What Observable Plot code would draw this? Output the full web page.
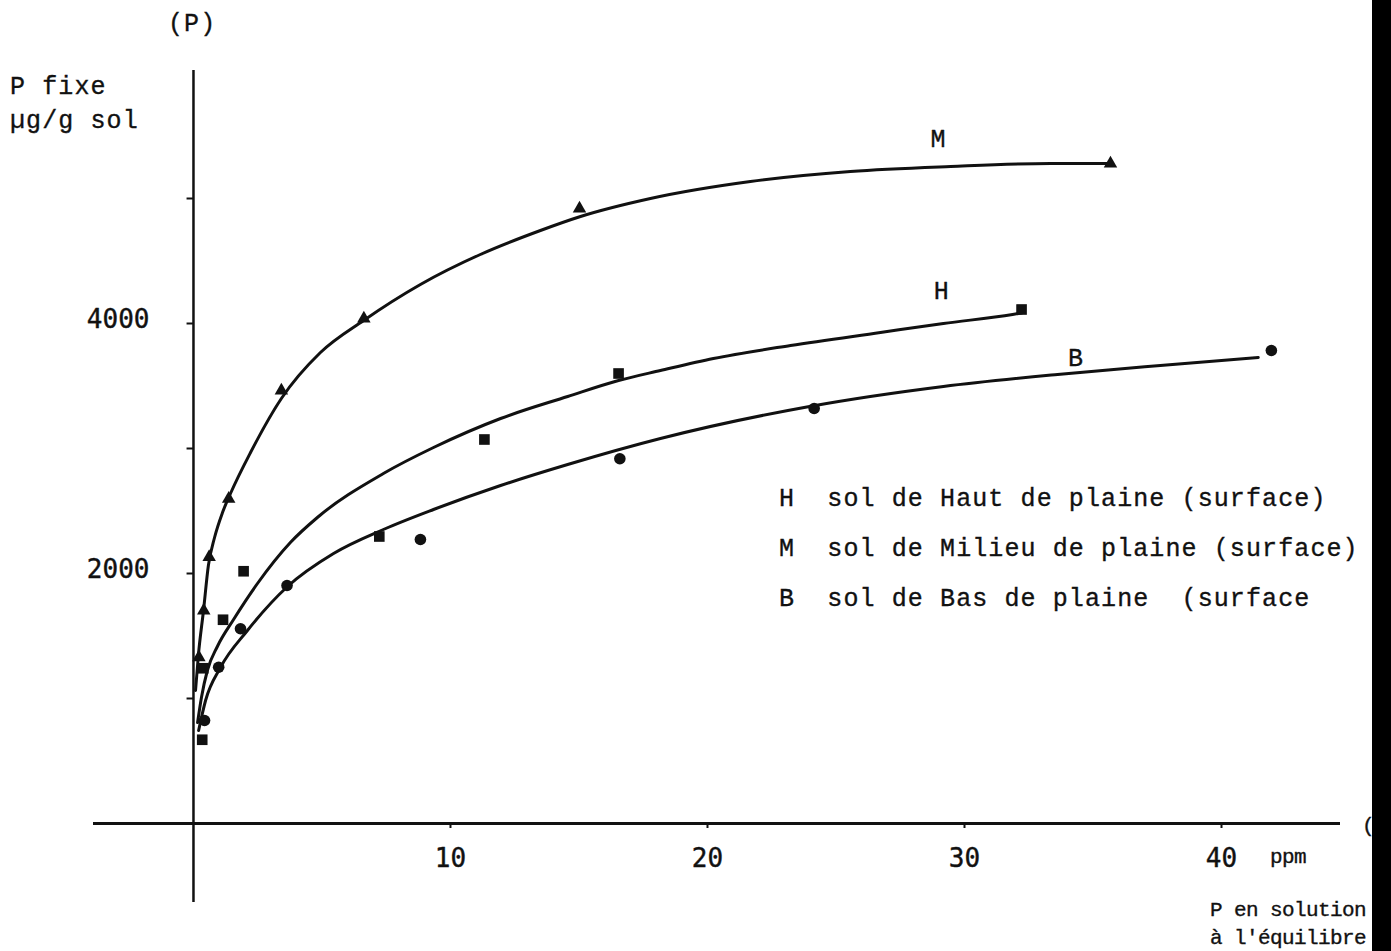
<!DOCTYPE html>
<html><head><meta charset="utf-8">
<script src="https://cdn.jsdelivr.net/npm/d3@7"></script>
<script src="https://cdn.jsdelivr.net/npm/@observablehq/plot@0.6"></script>
<style>
html,body{margin:0;padding:0;background:#fff;}
#wrap{position:relative;width:1391px;height:951px;overflow:hidden;background:#fff;}
.tw{position:absolute;font-family:"Liberation Mono",monospace;font-size:25px;letter-spacing:1.1px;color:#111;white-space:pre;line-height:24px;-webkit-text-stroke:0.35px #111;}
.sm{font-size:21px;letter-spacing:-0.6px;}
#bar{position:absolute;left:1372px;top:0;width:19px;height:951px;background:#000;}
</style></head><body><div id="wrap"></div>
<script>
// ---- axis definitions ----
const xAxisExtent = [-3.89, 44.63];
const yAxisExtent = [-632, 6024];
const xTicks = [10, 20, 30, 40];
const yTicks = [1000, 2000, 3000, 4000, 5000];
const yTickLabels = [2000, 4000];

// ---- measured points (P en solution ppm, P fixe µg/g sol) ----
const mX = [0.21, 0.40, 0.61, 1.37, 3.42, 6.63, 15.02, 35.68];
const mY = [1330, 1704, 2132, 2598, 3464, 4040, 4920, 5280];
const hX = [0.34, 0.38, 1.15, 1.95, 7.23, 11.32, 16.54, 32.22];
const hY = [670, 1242, 1630, 2018, 2296, 3072, 3600, 4112];
const bX = [0.43, 0.98, 1.83, 3.64, 8.83, 16.59, 24.15, 41.94];
const bY = [824, 1250, 1558, 1904, 2272, 2918, 3320, 3784];

// ---- fitted curves ----
const mCurveX = [0.08, 0.19, 0.39, 0.58, 0.82, 1.13, 1.44, 2.22, 3.42, 4.94, 6.62, 8.83, 11.16, 13.50, 15.06, 17.78, 21.67, 25.56, 29.46, 33.35, 35.60];
const mCurveY = [1064, 1344, 1704, 2064, 2288, 2488, 2640, 2968, 3400, 3768, 4024, 4312, 4552, 4744, 4856, 5000, 5136, 5216, 5256, 5280, 5280];
const hCurveX = [0.16, 0.31, 0.54, 0.93, 1.56, 2.49, 3.77, 4.82, 7.39, 9.34, 11.95, 14.56, 16.54, 18.17, 20.23, 23.23, 26.73, 29.18, 31.87, 32.22];
const hCurveY = [808, 1008, 1224, 1416, 1632, 1920, 2248, 2448, 2800, 3008, 3240, 3416, 3544, 3624, 3720, 3824, 3928, 4000, 4072, 4084];
const bCurveX = [0.20, 0.47, 1.05, 2.10, 3.66, 5.45, 7.39, 9.34, 11.95, 14.56, 18.17, 23.97, 29.18, 33.62, 37.62, 41.43];
const bCurveY = [744, 984, 1248, 1544, 1896, 2160, 2352, 2512, 2704, 2872, 3080, 3336, 3496, 3592, 3664, 3728];

// ---- curve labels ----
const seriesNames = ["M", "H", "B"];
const seriesLabelX = [28.97, 29.10, 34.32];
const seriesLabelY = [5480, 4264, 3728];

const legendLines = [
  "H  sol de Haut de plaine (surface)",
  "M  sol de Milieu de plaine (surface)",
  "B  sol de Bas de plaine  (surface"
];

const zip = (xs, ys) => xs.map((x, i) => ({x, y: ys[i]}));
const mPts = zip(mX, mY), hPts = zip(hX, hY), bPts = zip(bX, bY);
const mCurve = zip(mCurveX, mCurveY), hCurve = zip(hCurveX, hCurveY), bCurve = zip(bCurveX, bCurveY);
const labels = seriesNames.map((n, i) => ({n, x: seriesLabelX[i], y: seriesLabelY[i]}));

const ink = "#111";
const tickLenX = 0.25, tickLenY = 40;
const twFont = "Liberation Mono";
const numFont = "DejaVu Sans Mono";

const chart = Plot.plot({
  width: 1391, height: 951,
  marginLeft: 93, marginRight: 51, marginTop: 70, marginBottom: 49,
  x: {domain: xAxisExtent, axis: null},
  y: {domain: yAxisExtent, axis: null},
  style: {background: "white", color: ink},
  marks: [
    Plot.ruleY([0], {x1: xAxisExtent[0], x2: xAxisExtent[1], stroke: ink, strokeWidth: 3}),
    Plot.ruleX([0], {y1: yAxisExtent[0], y2: yAxisExtent[1], stroke: ink, strokeWidth: 2.5}),
    Plot.ruleY(yTicks, {x1: -tickLenX, x2: 0, y: d => d, stroke: ink, strokeWidth: 2}),
    Plot.ruleX(xTicks, {y1: -tickLenY, y2: 0, x: d => d, stroke: ink, strokeWidth: 2}),
    Plot.text(xTicks, {x: d => d, y: 0, dy: 35, text: d => String(d), fontFamily: numFont, fontSize: 26, fill: ink, stroke: ink, strokeWidth: 0.4}),
    Plot.text(yTickLabels, {x: 0, y: d => d, dx: -44, dy: -4, textAnchor: "end", text: d => String(d), fontFamily: numFont, fontSize: 26, fill: ink, stroke: ink, strokeWidth: 0.4}),
    Plot.line(mCurve, {x: "x", y: "y", curve: "monotone-x", stroke: ink, strokeWidth: 3}),
    Plot.line(hCurve, {x: "x", y: "y", curve: "monotone-x", stroke: ink, strokeWidth: 3}),
    Plot.line(bCurve, {x: "x", y: "y", curve: "monotone-x", stroke: ink, strokeWidth: 3}),
    Plot.dot(mPts, {x: "x", y: "y", symbol: "triangle", r: 5, fill: ink, stroke: "none"}),
    Plot.dot(hPts, {x: "x", y: "y", symbol: "square", r: 6, fill: ink, stroke: "none"}),
    Plot.dot(bPts, {x: "x", y: "y", symbol: "circle", r: 5.8, fill: ink, stroke: "none"}),
    Plot.text(labels, {x: "x", y: "y", text: "n", fontFamily: twFont, fontSize: 25, fill: ink, stroke: ink, strokeWidth: 0.35})
  ]
});

const wrap = document.getElementById("wrap");
wrap.appendChild(chart);
chart.style.position = "absolute";
chart.style.left = "0px";
chart.style.top = "0px";

function addText(txt, left, top, cls) {
  const d = document.createElement("div");
  d.className = "tw" + (cls ? " " + cls : "");
  d.textContent = txt;
  d.style.left = left + "px";
  d.style.top = top + "px";
  wrap.appendChild(d);
}
addText("(P)", 168, 13);
addText("P fixe", 10, 76);
addText("µg/g sol", 10, 110);
legendLines.forEach((t, i) => addText(t, 779, 488 + i * 50));
addText("ppm", 1270, 846, "sm");
addText("(", 1362, 815, "sm");
addText("P en solution", 1210, 899, "sm");
addText("à l'équilibre", 1210, 927, "sm");
const bar = document.createElement("div");
bar.id = "bar";
wrap.appendChild(bar);
</script>
</body></html>
